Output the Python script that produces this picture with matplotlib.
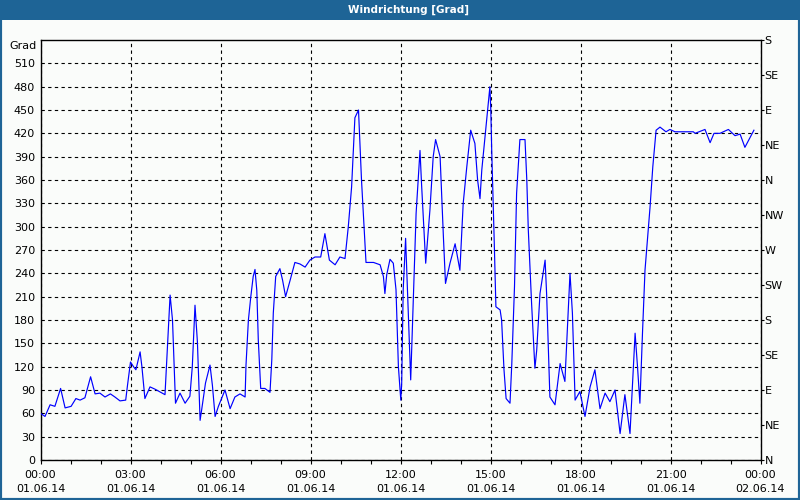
import pandas as pd
import matplotlib
matplotlib.use('Agg')
import matplotlib.pyplot as plt
import matplotlib.dates as mdates
from matplotlib.patches import Rectangle

# Wind direction readings on 01.06.14 (hour of day, degrees)
hours = [
    0.00, 0.15, 0.32, 0.48, 0.67, 0.82, 1.02, 1.18, 1.32, 1.48, 1.67, 1.82, 1.98,
    2.15, 2.33, 2.48, 2.65, 2.84, 2.90, 3.00, 3.10, 3.18, 3.32, 3.38, 3.48, 3.65,
    3.82, 4.15, 4.20, 4.32, 4.40, 4.50, 4.65, 4.82, 4.98, 5.06, 5.15, 5.23, 5.32,
    5.37, 5.50, 5.65, 5.73, 5.82, 5.93, 6.15, 6.32, 6.48, 6.65, 6.82, 6.85, 6.93,
    7.01, 7.09, 7.15, 7.21, 7.26, 7.34, 7.48, 7.65, 7.71, 7.76, 7.84, 7.98, 8.07,
    8.17, 8.32, 8.48, 8.65, 8.82, 8.98, 9.15, 9.34, 9.48, 9.63, 9.82, 9.98, 10.15,
    10.26, 10.37, 10.48, 10.60, 10.70, 10.82, 10.85, 11.10, 11.32, 11.43, 11.48,
    11.54, 11.65, 11.76, 11.85, 11.93, 11.98, 12.01, 12.04, 12.09, 12.17, 12.34,
    12.52, 12.65, 12.70, 12.78, 12.84, 12.98, 13.09, 13.17, 13.32, 13.43, 13.50,
    13.65, 13.82, 13.98, 14.09, 14.21, 14.34, 14.48, 14.57, 14.65, 14.71, 14.82,
    14.93, 14.98, 15.01, 15.04, 15.12, 15.18, 15.32, 15.37, 15.45, 15.52, 15.65,
    15.71, 15.80, 15.87, 15.98, 16.15, 16.21, 16.26, 16.37, 16.48, 16.54, 16.65,
    16.82, 16.87, 16.98, 17.15, 17.32, 17.48, 17.65, 17.73, 17.82, 17.98, 18.15,
    18.32, 18.48, 18.65, 18.82, 18.98, 19.15, 19.32, 19.48, 19.65, 19.82, 19.90,
    19.98, 20.07, 20.15, 20.32, 20.41, 20.52, 20.65, 20.85, 20.98, 21.15, 21.76,
    21.82, 22.15, 22.32, 22.45, 22.65, 22.93, 23.15, 23.32, 23.48, 23.78,
]
degrees = [
    60, 56, 71, 69, 92, 67, 69, 79, 77, 80, 107, 85, 86,
    81, 85, 81, 76, 77, 96, 126, 120, 116, 139, 120, 79, 94,
    91, 84, 122, 212, 180, 73, 86, 73, 82, 120, 199, 152, 51,
    64, 99, 122, 96, 56, 69, 90, 66, 81, 85, 81, 122, 180,
    210, 236, 245, 218, 154, 92, 92, 87, 129, 189, 236, 246, 231,
    210, 231, 254, 252, 248, 257, 261, 261, 291, 257, 251, 261, 259,
    300, 351, 440, 450, 360, 274, 254, 254, 251, 236, 214,
    238, 258, 253, 219, 120, 92, 77, 99, 219, 285, 103,
    317, 398, 356, 296, 253, 321, 390, 412, 390, 287, 227,
    253, 278, 244, 330, 377, 424, 407, 360, 336, 373, 416,
    459, 480, 450, 399, 287, 197, 193, 180, 116, 79, 73,
    124, 223, 343, 412, 412, 360, 296, 201, 118, 141, 214,
    257, 214, 81, 71, 124, 101, 240, 189, 77, 88, 56,
    94, 116, 66, 86, 75, 90, 34, 84, 34, 163, 120,
    73, 167, 244, 326, 377, 424, 428, 422, 425, 422, 422,
    420, 425, 408, 420, 420, 425, 417, 419, 402, 424,
]

y_ticks = list(range(0, 511, 30))
compass_ticks = list(range(0, 541, 45))
compass_labels = ['N', 'NE', 'E', 'SE', 'S', 'SW', 'W', 'NW',
                  'N', 'NE', 'E', 'SE', 'S']

start = pd.Timestamp('2014-06-01 00:00')
times = start + pd.to_timedelta(hours, unit='h')

bg = '#fafcfa'
frame_blue = '#1e6496'

fig = plt.figure(figsize=(8, 5), dpi=100, facecolor=bg)
ax = fig.add_axes([40.5 / 800, 40 / 500, 720 / 800, 420 / 500])
ax.set_facecolor(bg)

ax.plot(times, degrees, color='#0000ff', linewidth=0.85, zorder=3)

ax.set_xlim(start, start + pd.Timedelta(days=1))
ax.set_ylim(0, 540)

# grid
ax.set_yticks(y_ticks)
ax.grid(True, which='major', color='black', linestyle=(0, (3, 3)),
        linewidth=0.8, zorder=1)

ax.xaxis.set_major_locator(mdates.HourLocator(interval=3))
ax.xaxis.set_minor_locator(mdates.HourLocator(interval=1))
ax.xaxis.set_major_formatter(mdates.DateFormatter('%H:%M\n%d.%m.%y'))
ax.tick_params(axis='x', which='both', direction='out', length=3,
               width=0.8, labelsize=8, pad=4)
ax.tick_params(axis='y', length=0, labelsize=8, pad=4)
for lbl in ax.get_xticklabels():
    lbl.set_linespacing(1.55)

for sp in ax.spines.values():
    sp.set_linewidth(1.0)
    sp.set_color('black')

ax.text(-0.005, 532, 'Grad', transform=ax.get_yaxis_transform(),
        ha='right', va='center', fontsize=8)

# compass scale on the right
ax2 = ax.twinx()
ax2.set_ylim(0, 540)
ax2.set_yticks(compass_ticks)
ax2.set_yticklabels(compass_labels)
ax2.tick_params(axis='y', direction='out', length=2.5, width=0.8,
                labelsize=8, pad=0.5)
for sp in ax2.spines.values():
    sp.set_visible(False)

# title bar and frame
fig.patches.append(Rectangle((0, 480 / 500), 1, 20 / 500,
                             transform=fig.transFigure,
                             facecolor=frame_blue, edgecolor='none', zorder=0))
fig.text(409 / 800, 490 / 500, 'Windrichtung [Grad]', color='white',
         fontsize=7.5, fontweight='bold', ha='center', va='center')
fig.patches.append(Rectangle((0, 0), 1, 1, transform=fig.transFigure,
                             fill=False, edgecolor=frame_blue, linewidth=3,
                             zorder=5))

fig.savefig('out.png', dpi=100, facecolor=bg)
